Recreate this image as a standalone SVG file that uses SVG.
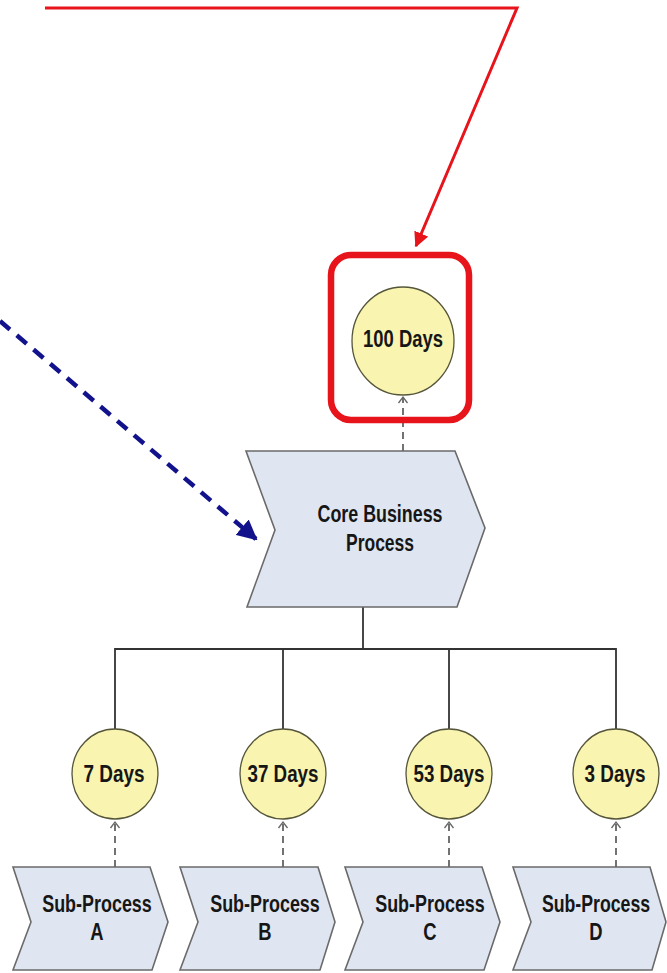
<svg xmlns="http://www.w3.org/2000/svg" width="667" height="973" viewBox="0 0 667 973">
  <style>
    .proc { fill: #dfe6f1; stroke: #6a6a6a; stroke-width: 1.6; }
    .kpi { fill: #f9f4b0; stroke: #55553a; stroke-width: 1.3; }
    .lbl { font-family: "Liberation Sans", Arial, sans-serif; font-weight: bold; font-size: 23px; fill: #161616; text-anchor: middle; }
    .tree { fill: none; stroke: #333; stroke-width: 1.8; }
    .dash { fill: none; stroke: #444; stroke-width: 1.5; stroke-dasharray: 7 5; }
    .open { fill: none; stroke: #666; stroke-width: 1.3; }
  </style>
  <defs>
    <marker id="redHead" viewBox="0 0 10 10" refX="9" refY="5" markerWidth="5" markerHeight="5" orient="auto" markerUnits="strokeWidth">
      <path d="M0,0 L10,5 L0,10 z" fill="#e8141b"/>
    </marker>
    <marker id="blueHead" viewBox="0 0 10 10" refX="9" refY="5" markerWidth="4.5" markerHeight="4.5" orient="auto" markerUnits="strokeWidth">
      <path d="M0,0 L10,5 L0,10 z" fill="#12128c"/>
    </marker>
  </defs>

  <!-- connectors -->
  <g id="connectors">
    <!-- red callout to the total -->
    <polyline points="45,8 517,8 416,246" fill="none" stroke="#e8141b" stroke-width="3" marker-end="url(#redHead)"/>
    <!-- blue dashed pointer to the core process -->
    <line x1="0" y1="321" x2="256" y2="539" stroke="#12128c" stroke-width="4.5" stroke-dasharray="13 9" marker-end="url(#blueHead)"/>
    <!-- core process to its total -->
    <line class="dash" x1="403" y1="451" x2="403" y2="397"/>
    <polyline class="open" points="398.5,403 403,397 407.5,403"/>
    <!-- decomposition tree -->
    <line class="tree" x1="363" y1="607" x2="363" y2="649"/>
    <polyline class="tree" points="115,729 115,649 616,649 616,729"/>
    <line class="tree" x1="283" y1="649" x2="283" y2="729"/>
    <line class="tree" x1="449" y1="649" x2="449" y2="729"/>
    <!-- sub-processes to their durations -->
    <line class="dash" x1="115" y1="867" x2="115" y2="822"/>
    <polyline class="open" points="110.5,828 115,822 119.5,828"/>
    <line class="dash" x1="283" y1="867" x2="283" y2="822"/>
    <polyline class="open" points="278.5,828 283,822 287.5,828"/>
    <line class="dash" x1="449" y1="867" x2="449" y2="822"/>
    <polyline class="open" points="444.5,828 449,822 453.5,828"/>
    <line class="dash" x1="616" y1="867" x2="616" y2="822"/>
    <polyline class="open" points="611.5,828 616,822 620.5,828"/>
  </g>

  <!-- highlighted total -->
  <g id="total-highlight">
    <rect x="331" y="255" width="138" height="165" rx="20" ry="20" fill="none" stroke="#e8141b" stroke-width="6.5"/>
  </g>
  <g id="kpi-total">
    <ellipse class="kpi" cx="403" cy="341" rx="51" ry="54"/>
    <text class="lbl" x="403" y="347" textLength="80" lengthAdjust="spacingAndGlyphs">100 Days</text>
  </g>

  <!-- core process -->
  <g id="core-process">
    <polygon class="proc" points="246,451 455,451 485,528 457,607 247,607 275,530"/>
    <text class="lbl" x="380" y="522" textLength="125" lengthAdjust="spacingAndGlyphs">Core Business</text>
    <text class="lbl" x="380" y="551" textLength="68" lengthAdjust="spacingAndGlyphs">Process</text>
  </g>

  <!-- durations -->
  <g id="kpi-a">
    <ellipse class="kpi" cx="115" cy="774" rx="43" ry="45"/>
    <text class="lbl" x="114" y="782" textLength="61" lengthAdjust="spacingAndGlyphs">7 Days</text>
  </g>
  <g id="kpi-b">
    <ellipse class="kpi" cx="283" cy="774" rx="43" ry="45"/>
    <text class="lbl" x="283" y="782" textLength="71" lengthAdjust="spacingAndGlyphs">37 Days</text>
  </g>
  <g id="kpi-c">
    <ellipse class="kpi" cx="449" cy="774" rx="43" ry="45"/>
    <text class="lbl" x="449" y="782" textLength="71" lengthAdjust="spacingAndGlyphs">53 Days</text>
  </g>
  <g id="kpi-d">
    <ellipse class="kpi" cx="616" cy="774" rx="43" ry="45"/>
    <text class="lbl" x="615" y="782" textLength="61" lengthAdjust="spacingAndGlyphs">3 Days</text>
  </g>

  <!-- sub-processes (labels condensed horizontally) -->
  <g id="sub-a">
    <polygon class="proc" points="13,867 150,867 168,922 152,970 13,970 31,922"/>
    <text class="lbl" transform="translate(97,912) scale(0.78,1)">Sub-Process</text>
    <text class="lbl" transform="translate(97,940) scale(0.8,1)">A</text>
  </g>
  <g id="sub-b">
    <polygon class="proc" points="180,867 318,867 335,922 320,970 180,970 198,922"/>
    <text class="lbl" transform="translate(265,912) scale(0.78,1)">Sub-Process</text>
    <text class="lbl" transform="translate(265,940) scale(0.8,1)">B</text>
  </g>
  <g id="sub-c">
    <polygon class="proc" points="345,867 482,867 500,922 484,970 345,970 363,922"/>
    <text class="lbl" transform="translate(430,912) scale(0.78,1)">Sub-Process</text>
    <text class="lbl" transform="translate(430,940) scale(0.8,1)">C</text>
  </g>
  <g id="sub-d">
    <polygon class="proc" points="513,867 650,867 666,922 652,970 513,970 531,922"/>
    <text class="lbl" transform="translate(596,912) scale(0.77,1)">Sub-Process</text>
    <text class="lbl" transform="translate(596,940) scale(0.8,1)">D</text>
  </g>
</svg>
